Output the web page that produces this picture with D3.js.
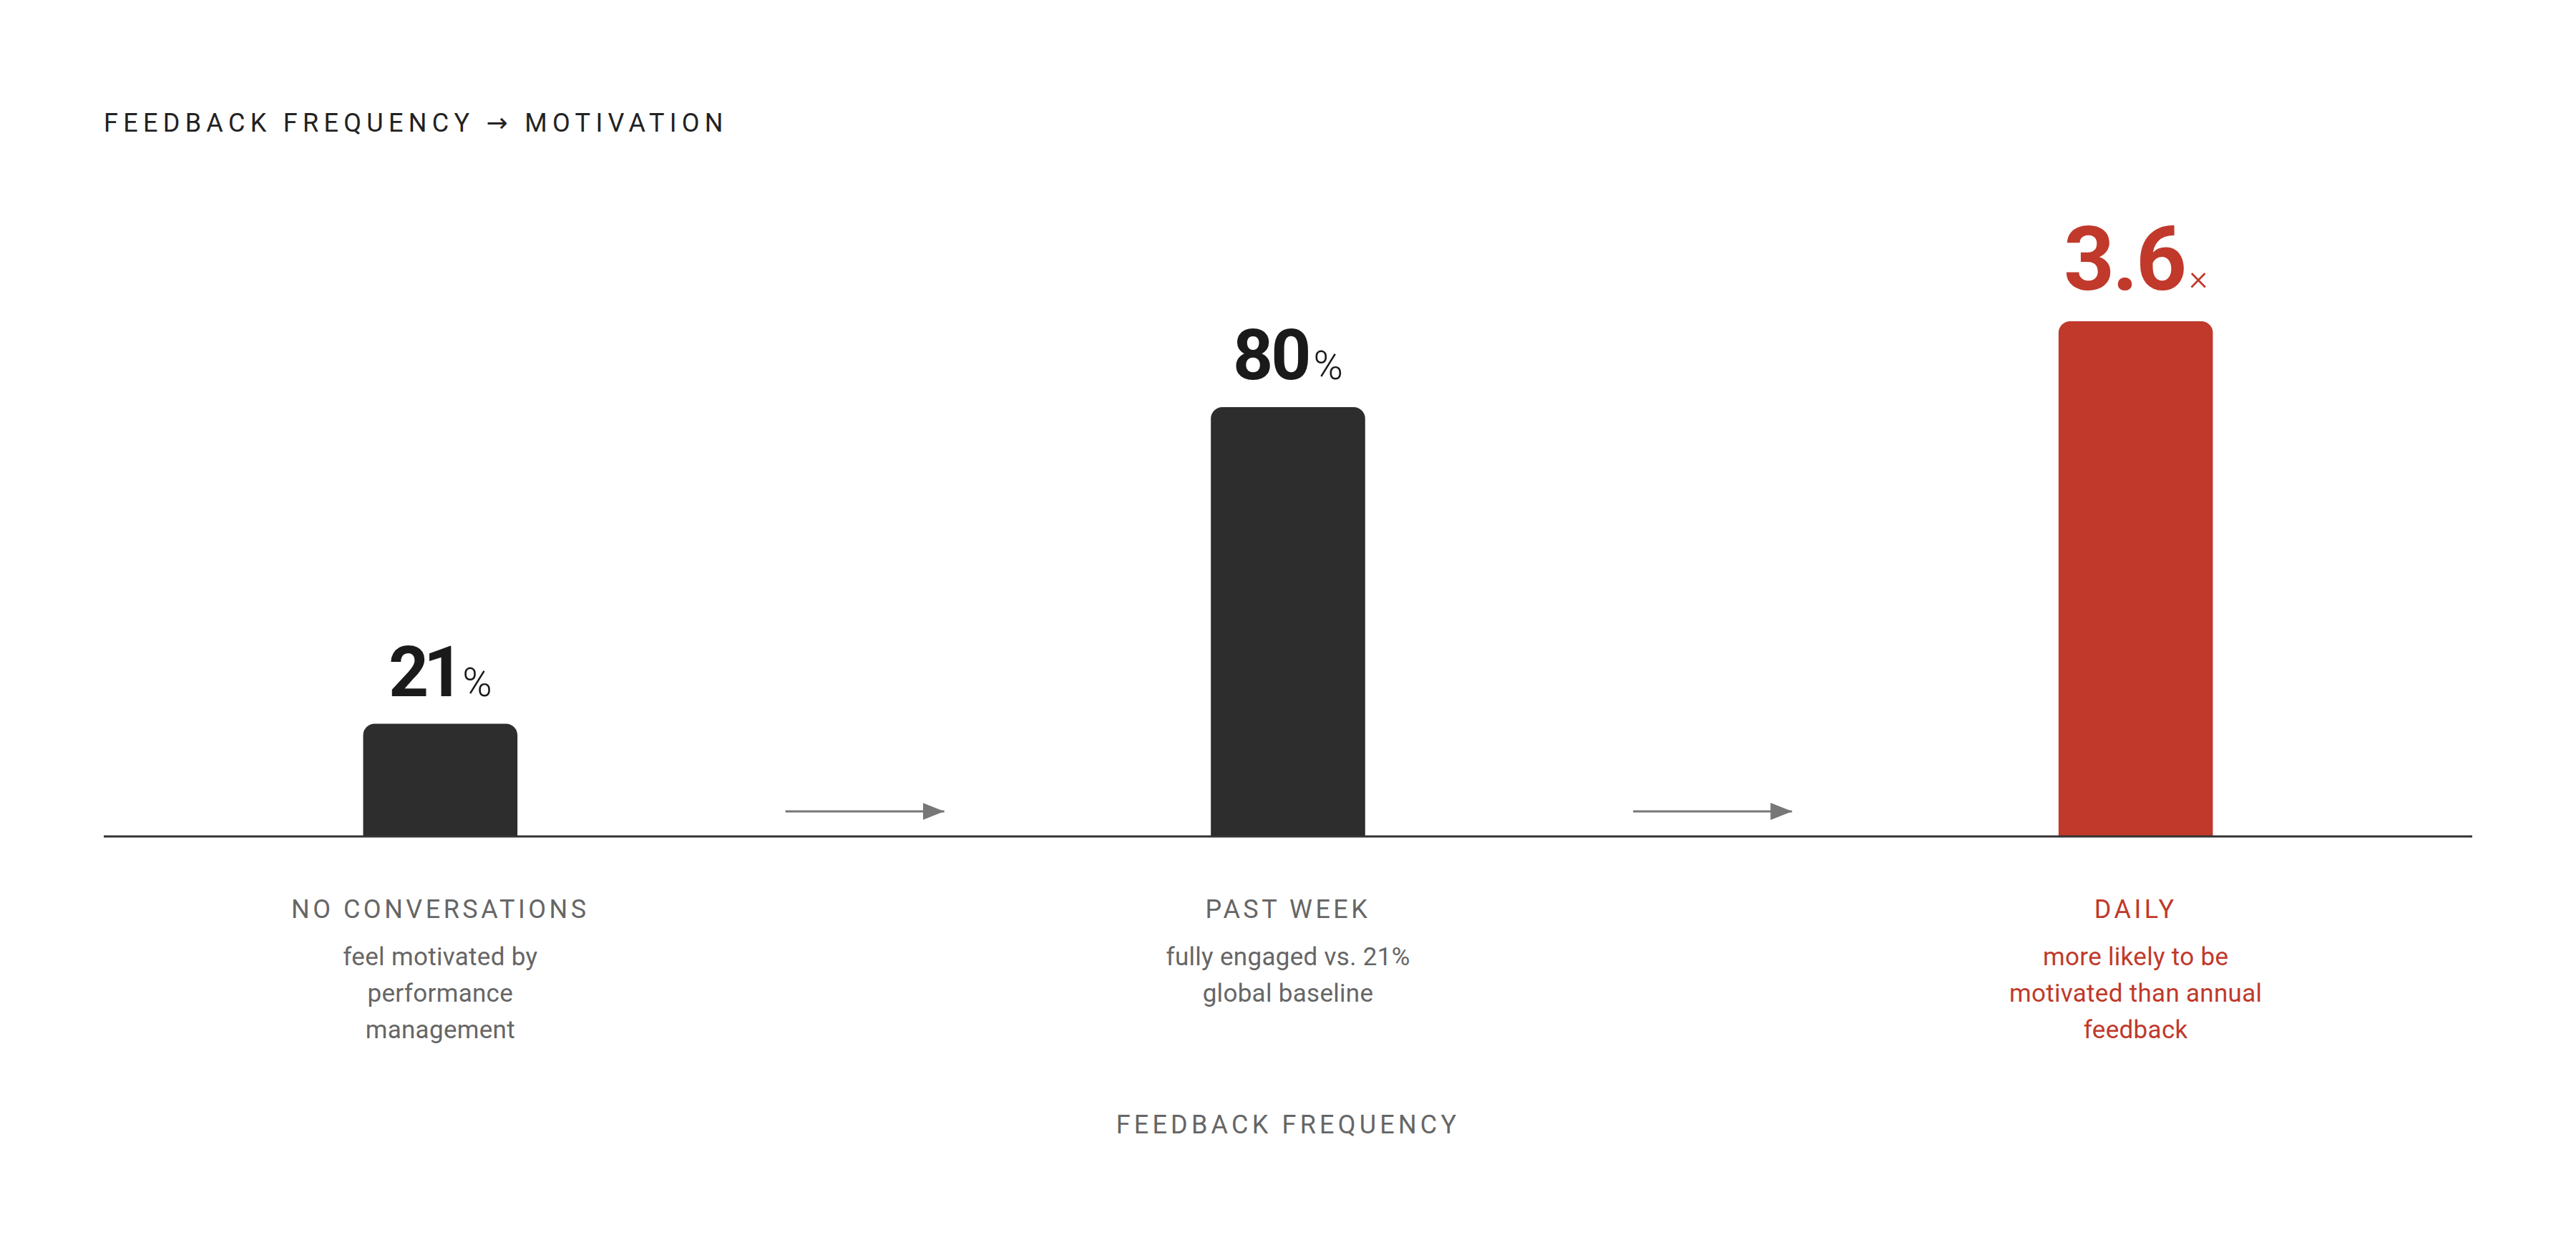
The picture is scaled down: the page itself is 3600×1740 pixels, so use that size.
<!DOCTYPE html>
<html>
<head>
<meta charset="utf-8">
<script src="https://cdn.jsdelivr.net/npm/d3@7"></script>
<style>
  html, body { margin: 0; padding: 0; background: #ffffff; }
  svg { display: block; }
  text { font-family: Roboto, "Noto Sans", "DejaVu Sans", sans-serif; }
</style>
</head>
<body>
<svg id="chart"></svg>
<script>
// ---- data ----
const categories = ["NO CONVERSATIONS", "PAST WEEK", "DAILY"];
const barValues = [21, 80, 96];          // bar heights on a 0–100 scale
const valueLabels = ["21", "80", "3.6"];
const valueSuffixes = ["%", "%", "×"];
const highlight = [false, false, true];
const descriptions = [
  ["feel motivated by", "performance", "management"],
  ["fully engaged vs. 21%", "global baseline"],
  ["more likely to be", "motivated than annual", "feedback"]
];
const titleText = "FEEDBACK FREQUENCY → MOTIVATION";
const xAxisTitle = "FEEDBACK FREQUENCY";
const yDomain = [0, 100];

// ---- layout ----
const W = 3600, H = 1740;
const left = 145, right = 3455, baseY = 1169, topY = 419;
const dark = "#2d2d2d", red = "#c0392b", grey = "#666666";

const svg = d3.select("#chart").attr("width", W).attr("height", H);

const x = d3.scaleBand()
  .domain(categories)
  .range([left, right])
  .paddingInner(0.818)
  .paddingOuter(0.306);

const y = d3.scaleLinear().domain(yDomain).range([baseY, topY]);

function topRoundedBar(x0, y0, w, h, r) {
  const p = d3.path();
  p.moveTo(x0, y0 + h);
  p.lineTo(x0, y0 + r);
  p.arcTo(x0, y0, x0 + r, y0, r);
  p.lineTo(x0 + w - r, y0);
  p.arcTo(x0 + w, y0, x0 + w, y0 + r, r);
  p.lineTo(x0 + w, y0 + h);
  p.closePath();
  return p.toString();
}

// title
svg.append("text")
  .attr("x", left).attr("y", 184)
  .attr("font-size", 36).attr("letter-spacing", 7.3)
  .attr("fill", "#222222")
  .text(titleText);

// bars
const rows = categories.map((c, i) => ({
  cat: c, v: barValues[i], label: valueLabels[i], suffix: valueSuffixes[i],
  hi: highlight[i], desc: descriptions[i]
}));

svg.append("g").selectAll("path")
  .data(rows)
  .join("path")
  .attr("d", d => topRoundedBar(x(d.cat), y(d.v), x.bandwidth(), y(0) - y(d.v), 16))
  .attr("fill", d => d.hi ? red : dark);

// axis baseline
svg.append("line")
  .attr("x1", left).attr("x2", right)
  .attr("y1", baseY).attr("y2", baseY)
  .attr("stroke", "#333333").attr("stroke-width", 3);

// arrows between bars
const defs = svg.append("defs");
defs.append("marker")
  .attr("id", "arrowhead")
  .attr("viewBox", "0 0 10 8")
  .attr("refX", 10).attr("refY", 4)
  .attr("markerWidth", 10).attr("markerHeight", 8)
  .attr("markerUnits", "strokeWidth")
  .attr("orient", "auto")
  .append("path").attr("d", "M0,0 L10,4 L0,8 Z").attr("fill", "#777777");

const arrowPairs = d3.pairs(categories);
svg.append("g").selectAll("line")
  .data(arrowPairs)
  .join("line")
  .attr("x1", d => (x(d[0]) + x(d[1])) / 2 + x.bandwidth() / 2 - 110)
  .attr("x2", d => (x(d[0]) + x(d[1])) / 2 + x.bandwidth() / 2 + 112)
  .attr("y1", baseY - 35).attr("y2", baseY - 35)
  .attr("stroke", "#777777").attr("stroke-width", 3)
  .attr("marker-end", "url(#arrowhead)");

// value labels
const vl = svg.append("g").selectAll("text")
  .data(rows)
  .join("text")
  .attr("x", d => x(d.cat) + x.bandwidth() / 2)
  .attr("y", d => y(d.v) - (d.hi ? 44 : 39))
  .attr("text-anchor", "middle")
  .attr("fill", d => d.hi ? red : "#1a1a1a");
vl.append("tspan")
  .attr("font-size", d => d.hi ? 124 : 98)
  .attr("font-weight", 700)
  .attr("letter-spacing", d => d.hi ? -3 : (d.label === "21" ? -7 : -3))
  .text(d => d.label);
vl.append("tspan")
  .attr("dx", d => d.hi ? 6 : (d.label === "21" ? 5 : 6))
  .attr("font-size", d => d.hi ? 50 : 56)
  .attr("font-weight", 300)
  .text(d => d.suffix);

// category labels
svg.append("g").selectAll("text")
  .data(rows)
  .join("text")
  .attr("x", d => x(d.cat) + x.bandwidth() / 2)
  .attr("y", 1283)
  .attr("text-anchor", "middle")
  .attr("font-size", 36).attr("letter-spacing", 4.5)
  .attr("fill", d => d.hi ? red : grey)
  .text(d => d.cat);

// descriptions
const desc = svg.append("g").selectAll("text")
  .data(rows)
  .join("text")
  .attr("text-anchor", "middle")
  .attr("font-size", 35)
  .attr("letter-spacing", 0.3)
  .attr("fill", d => d.hi ? red : grey);
desc.selectAll("tspan")
  .data(d => d.desc.map(line => ({ line, cx: x(d.cat) + x.bandwidth() / 2 })))
  .join("tspan")
  .attr("x", t => t.cx)
  .attr("y", (t, i) => 1349 + i * 51)
  .text(t => t.line);

// x axis title
svg.append("text")
  .attr("x", (left + right) / 2).attr("y", 1584)
  .attr("text-anchor", "middle")
  .attr("font-size", 36).attr("letter-spacing", 5.2)
  .attr("fill", grey)
  .text(xAxisTitle);
</script>
</body>
</html>
